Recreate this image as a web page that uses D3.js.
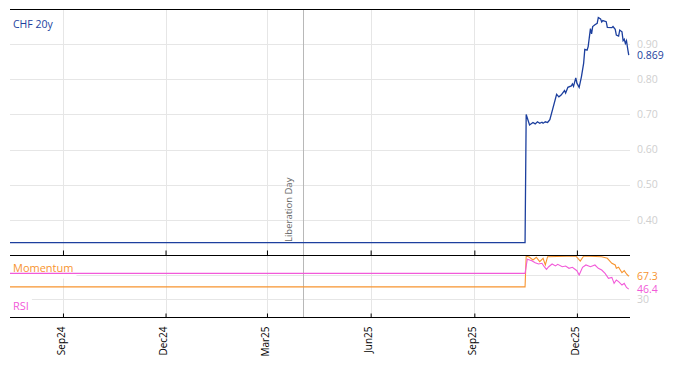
<!DOCTYPE html>
<meta charset="utf-8">
<script src="https://d3js.org/d3.v7.min.js"></script>
<style>
  body { margin: 0; background: #fff; }
  text { font-family: "Open Sans", sans-serif; }
</style>
<div id="chart"></div>
<script>

// ---- data ----
var mainDates = ["2024-07-16","2025-10-16","2025-10-17","2025-10-20","2025-10-23","2025-10-25","2025-10-27","2025-10-29",
  "2025-10-31","2025-11-01","2025-11-03","2025-11-05","2025-11-07","2025-11-13","2025-11-15","2025-11-17","2025-11-20",
  "2025-11-21","2025-11-23","2025-11-26","2025-11-27","2025-11-28","2025-11-30","2025-12-01","2025-12-03","2025-12-05",
  "2025-12-07","2025-12-08","2025-12-10","2025-12-11","2025-12-13","2025-12-14","2025-12-15","2025-12-17","2025-12-19",
  "2025-12-20","2025-12-22","2025-12-23","2025-12-24","2025-12-27","2025-12-28","2026-01-01","2026-01-02","2026-01-04",
  "2026-01-05","2026-01-07","2026-01-08","2026-01-10","2026-01-11","2026-01-12","2026-01-13","2026-01-14","2026-01-15",
  "2026-01-16"];
var mainValues = [0.335,0.335,0.700,0.670,0.677,0.673,0.679,0.675,
  0.678,0.675,0.679,0.677,0.685,0.757,0.750,0.755,0.768,
  0.761,0.777,0.781,0.787,0.780,0.804,0.789,0.777,0.807,
  0.846,0.885,0.883,0.893,0.944,0.929,0.950,0.955,0.959,
  0.976,0.972,0.963,0.967,0.964,0.948,0.947,0.950,0.942,
  0.926,0.923,0.940,0.935,0.910,0.914,0.902,0.910,0.888,
  0.869];

var momDates = ["2024-07-16","2025-10-16","2025-10-17","2025-10-20","2025-10-23","2025-10-26","2025-10-29","2025-11-01",
  "2025-11-03","2025-11-05","2025-11-30","2025-12-04","2025-12-07","2025-12-23","2025-12-28","2026-01-01","2026-01-04",
  "2026-01-05","2026-01-07","2026-01-10","2026-01-12","2026-01-14","2026-01-16"];
var momValues = [50,50,100.4,98.3,93.8,98.3,91.1,96.6,
  85.7,99.2,100.4,92,100.4,99.2,96.6,88.5,85.7,
  80.3,81.9,73.1,76.4,71,67.3];

var rsiDates = ["2024-07-16","2025-10-16","2025-10-18","2025-10-22","2025-10-25","2025-10-28","2025-10-31","2025-11-02",
  "2025-11-04","2025-11-06","2025-11-09","2025-11-12","2025-11-14","2025-11-18","2025-11-21","2025-11-24","2025-11-27",
  "2025-12-01","2025-12-03","2025-12-06","2025-12-09","2025-12-13","2025-12-17","2025-12-20","2025-12-23","2025-12-26",
  "2025-12-29","2026-01-01","2026-01-03","2026-01-05","2026-01-07","2026-01-10","2026-01-12","2026-01-14","2026-01-16"];
var rsiValues = [72,72,95.2,92.7,89.4,87.3,88.5,82.9,
  78.6,82.9,87.3,84.1,86.8,82.9,84.1,80.3,81.9,
  76.4,69.4,81.9,85.7,82.9,85.7,80.3,77.5,72.1,
  63.9,65.5,55.7,61.2,58.5,53.0,55.7,49.1,46.4];

var xTickDates = ["2024-09-01","2024-12-01","2025-03-01","2025-06-01","2025-09-01","2025-12-01"];
var xTickLabels = ["Sep24","Dec24","Mar25","Jun25","Sep25","Dec25"];
var mainTicks = [0.4, 0.5, 0.6, 0.7, 0.8, 0.9];
var lowerGrid = [30, 70];
var lowerLabels = [30];
var eventDate = "2025-04-02", eventLabel = "Liberation Day";

var blue = "#1c3f9e", orange = "#f7942f", pink = "#f25ad9";

var parse = d3.timeParse("%Y-%m-%d");
var W = 674, H = 366;
var xLeft = 10, xRight = 630, yTop = 9, yMid = 255, yBot = 317;

var svg = d3.select("#chart").append("svg")
    .attr("width", W).attr("height", H);

var x = d3.scaleTime()
  .domain([parse("2024-07-16"), parse("2026-01-18")])
  .range([10, 631]);
var y = d3.scaleLinear().domain([0.30, 1.00]).range([yMid, yTop]);
var y2 = d3.scaleLinear().domain([0, 102]).range([317.5, yMid]);

// grid
svg.append("g").selectAll("line").data(xTickDates).enter().append("line")
  .attr("x1", function(d) { return Math.round(x(parse(d))) + 0.5; })
  .attr("x2", function(d) { return Math.round(x(parse(d))) + 0.5; })
  .attr("y1", yTop).attr("y2", yBot)
  .style("stroke", "#e6e6e6");
svg.append("g").selectAll("line").data(mainTicks).enter().append("line")
  .attr("x1", xLeft).attr("x2", xRight)
  .attr("y1", function(d) { return Math.round(y(d)) + 0.5; })
  .attr("y2", function(d) { return Math.round(y(d)) + 0.5; })
  .style("stroke", "#e6e6e6");
svg.append("g").selectAll("line").data(lowerGrid).enter().append("line")
  .attr("x1", xLeft).attr("x2", xRight)
  .attr("y1", function(d) { return Math.round(y2(d)) + 0.5; })
  .attr("y2", function(d) { return Math.round(y2(d)) + 0.5; })
  .style("stroke", "#e6e6e6");

// event line
var ex = Math.round(x(parse(eventDate))) + 0.5;
svg.append("line").attr("x1", ex).attr("x2", ex).attr("y1", yTop).attr("y2", yBot)
  .style("stroke", "#b8b8b8");

// labels with white boxes
function boxed(t, pad) {
  var b = t.node().getBBox();
  svg.insert("rect", function() { return t.node(); })
    .attr("x", b.x - pad[0]).attr("y", b.y - pad[1])
    .attr("width", b.width + 2 * pad[0]).attr("height", b.height + 2 * pad[1])
    .style("fill", "#fff");
}
var lib = svg.append("text")
  .attr("transform", "translate(" + (ex - 11.5) + ",242) rotate(-90)")
  .style("font-size", "9.5px").style("fill", "#666")
  .text(eventLabel);
boxed(lib, [1, 0]);

var t1 = svg.append("text").attr("x", 13).attr("y", 28)
  .style("font-size", "10.5px").style("fill", blue).text("CHF 20y");
boxed(t1, [3, 2]);
var t2 = svg.append("text").attr("x", 13).attr("y", 271.5)
  .style("font-size", "11px").style("fill", orange).text("Momentum");
boxed(t2, [3, 4]);
var t3 = svg.append("text").attr("x", 13).attr("y", 309.5)
  .style("font-size", "11px").style("fill", pink).text("RSI");
boxed(t3, [3, 4]);

// series
function series(dates, values) {
  return dates.map(function(d, i) { return {date: parse(d), value: values[i]}; });
}
svg.append("path").datum(series(mainDates, mainValues))
  .attr("d", d3.line().x(function(d) { return x(d.date); }).y(function(d) { return y(d.value); }))
  .style("fill", "none").style("stroke", blue).style("stroke-width", 1.3);
svg.append("path").datum(series(momDates, momValues))
  .attr("d", d3.line().x(function(d) { return x(d.date); }).y(function(d) { return y2(d.value); }))
  .style("fill", "none").style("stroke", orange).style("stroke-width", 1.1);
svg.append("path").datum(series(rsiDates, rsiValues))
  .attr("d", d3.line().x(function(d) { return x(d.date); }).y(function(d) { return y2(d.value); }))
  .style("fill", "none").style("stroke", pink).style("stroke-width", 1.1);

// panel borders
[yTop, yMid, yBot].forEach(function(v) {
  svg.append("line").attr("x1", xLeft).attr("x2", xRight)
    .attr("y1", v + 0.5).attr("y2", v + 0.5).style("stroke", "#000");
});

// x ticks
var tickVals = xTickDates.map(parse);
svg.append("g").attr("transform", "translate(0," + (yMid + 0.5) + ")")
  .call(d3.axisBottom(x).tickValues(tickVals).tickSize(-5).tickSizeOuter(0).tickFormat(""))
  .call(function(g) { g.select(".domain").remove(); });
var xa = svg.append("g").attr("transform", "translate(0," + (yBot + 0.5) + ")")
  .call(d3.axisBottom(x).tickValues(tickVals).tickSize(-4).tickSizeOuter(0)
    .tickFormat(function(d, i) { return xTickLabels[i]; }))
  .call(function(g) { g.select(".domain").remove(); });
xa.selectAll("text")
  .attr("transform", "rotate(-90)")
  .attr("text-anchor", "end")
  .attr("x", -9).attr("y", 0).attr("dy", "0.12em")
  .style("font-size", "10px").style("fill", "#000")
  .style("font-family", "Open Sans");

// right labels
svg.append("g").selectAll("text").data(mainTicks).enter().append("text")
  .attr("x", 637).attr("y", function(d) { return y(d); }).attr("dy", "0.35em")
  .style("font-size", "10.5px").style("fill", "#cfcfcf")
  .text(function(d) { return d3.format(".2f")(d); });
svg.append("g").selectAll("text").data(lowerLabels).enter().append("text")
  .attr("x", 637).attr("y", function(d) { return y2(d); }).attr("dy", "0.35em")
  .style("font-size", "10.5px").style("fill", "#cfcfcf")
  .text(function(d) { return d; });

var lastMain = mainValues[mainValues.length - 1];
svg.append("text").attr("x", 637).attr("y", y(lastMain)).attr("dy", "0.35em")
  .style("font-size", "10.5px").style("fill", blue).text(d3.format(".3f")(lastMain));
var lastMom = momValues[momValues.length - 1];
svg.append("text").attr("x", 637).attr("y", y2(lastMom)).attr("dy", "0.35em")
  .style("font-size", "10.5px").style("fill", orange).text(d3.format(".1f")(lastMom));
var lastRsi = rsiValues[rsiValues.length - 1];
svg.append("text").attr("x", 637).attr("y", y2(lastRsi) + 0.5).attr("dy", "0.35em")
  .style("font-size", "10.5px").style("fill", pink).text(d3.format(".1f")(lastRsi));

</script>
